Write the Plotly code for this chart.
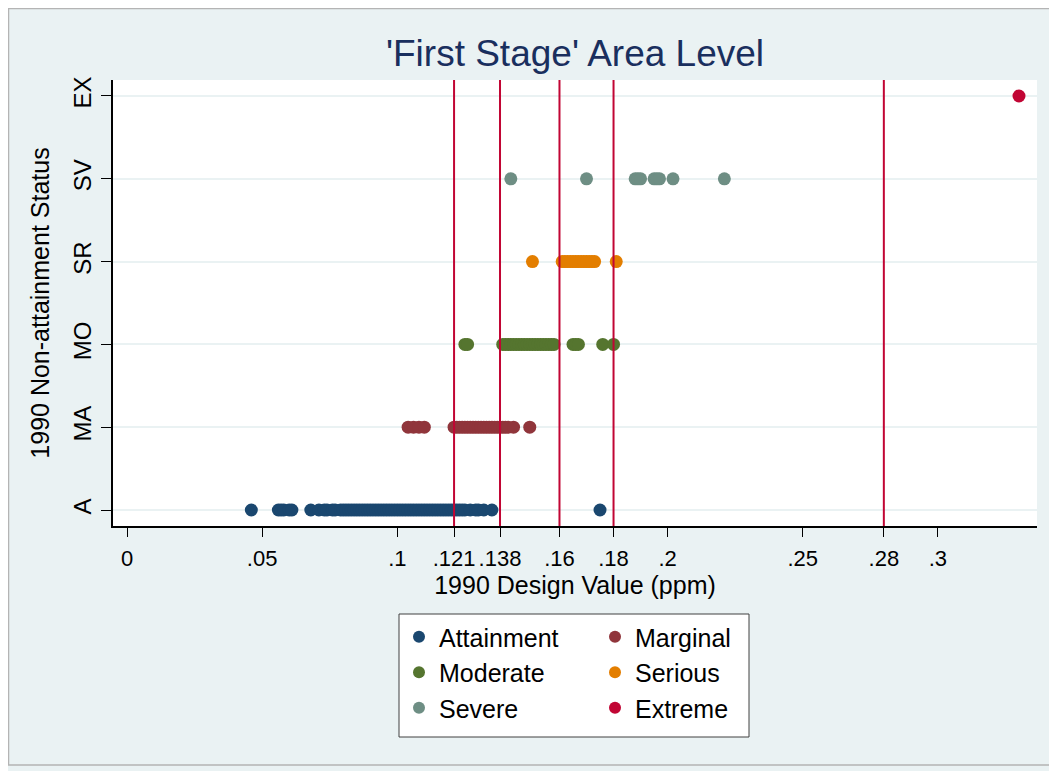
import plotly.graph_objects as go

# ---- data ----
categories = ["A", "MA", "MO", "SR", "SV", "EX"]
series_names = ["Attainment", "Marginal", "Moderate", "Serious", "Severe", "Extreme"]
series_codes = ["A", "MA", "MO", "SR", "SV", "EX"]
series_colors = ["#1a476f", "#90353b", "#55752f", "#e37e00", "#6e8e84", "#c10534"]

attainment = [0.046, 0.056, 0.057, 0.058, 0.060, 0.061, 0.068, 0.071, 0.073, 0.074,
              0.076, 0.077, 0.079, 0.080, 0.081, 0.082, 0.083, 0.084, 0.085, 0.086,
              0.087, 0.088, 0.089, 0.090, 0.091, 0.092, 0.093, 0.094, 0.095, 0.096,
              0.097, 0.098, 0.099, 0.100, 0.101, 0.102, 0.103, 0.104, 0.105, 0.106,
              0.107, 0.108, 0.109, 0.110, 0.111, 0.112, 0.113, 0.114, 0.115, 0.116,
              0.117, 0.118, 0.119, 0.120, 0.121, 0.122, 0.123, 0.124, 0.125, 0.127,
              0.129, 0.130, 0.132, 0.135, 0.175]
marginal = [0.104, 0.106, 0.108, 0.110, 0.121, 0.122, 0.123, 0.124, 0.125, 0.126,
            0.127, 0.128, 0.129, 0.130, 0.131, 0.132, 0.133, 0.134, 0.135, 0.136,
            0.137, 0.138, 0.139, 0.140, 0.141, 0.143, 0.149]
moderate = [0.125, 0.126, 0.139, 0.140, 0.141, 0.142, 0.143, 0.144, 0.145, 0.146,
            0.147, 0.148, 0.149, 0.150, 0.151, 0.152, 0.153, 0.154, 0.155, 0.156,
            0.157, 0.158, 0.165, 0.166, 0.167, 0.176, 0.180]
serious = [0.150, 0.161, 0.162, 0.163, 0.164, 0.165, 0.166, 0.167, 0.168, 0.169,
           0.170, 0.171, 0.172, 0.173, 0.181]
severe = [0.142, 0.170, 0.188, 0.189, 0.190, 0.195, 0.196, 0.197, 0.202, 0.221]
extreme = [0.330]

series_values = [attainment, marginal, moderate, serious, severe, extreme]
series_legend = ["legend", "legend2", "legend", "legend2", "legend", "legend2"]

threshold_lines = [0.121, 0.138, 0.16, 0.18, 0.28]

x_tickvals = [0, 0.05, 0.1, 0.121, 0.138, 0.16, 0.18, 0.2, 0.25, 0.28, 0.3]
x_ticktext = ["0", ".05", ".1", ".121", ".138", ".16", ".18", ".2", ".25", ".28", ".3"]

# ---- figure ----
FONT = "Liberation Sans, Arial, sans-serif"
fig = go.Figure()

for name, code, color, vals, lg in zip(series_names, series_codes, series_colors,
                                       series_values, series_legend):
    fig.add_trace(go.Scatter(
        x=vals, y=[code] * len(vals), mode="markers", name=name,
        marker=dict(color=color, size=13, line=dict(width=0)),
        legend=lg,
    ))

for xv in threshold_lines:
    fig.add_vline(x=xv, line=dict(color="#c10534", width=2))

OFF = 8  # page body margin
W, H = 1057 - OFF, 771 - OFF
L, R, T, B = 113 - OFF, 20, 80 - OFF, 245
pw, ph = W - L - R, H - T - B

def px_x(p):
    return (p - OFF - L) / pw

def px_y(p):
    return (H - B - (p - OFF)) / ph

# outer border
fig.add_shape(type="rect", xref="paper", yref="paper",
              x0=px_x(OFF + 0.5), x1=px_x(1050), y0=px_y(765), y1=px_y(OFF + 0.5),
              line=dict(color="#b4b4b4", width=1.5), fillcolor="rgba(0,0,0,0)", layer="below")
# legend box
fig.add_shape(type="rect", xref="paper", yref="paper",
              x0=px_x(399), x1=px_x(749), y0=px_y(737), y1=px_y(614),
              line=dict(color="#404040", width=1), fillcolor="white", layer="below")

legend_common = dict(bgcolor="rgba(0,0,0,0)", borderwidth=0,
                     font=dict(family=FONT, size=25, color="black"),
                     orientation="v", xanchor="left", yanchor="top",
                     itemsizing="constant", tracegroupgap=0)
fig.update_layout(
    width=W, height=H,
    margin=dict(l=L, r=R, t=T, b=B),
    paper_bgcolor="#eaf2f3",
    plot_bgcolor="white",
    font=dict(family=FONT, size=24, color="black"),
    title=dict(text="'First Stage' Area Level", x=0.5, xref="paper", xanchor="center",
               y=1 - (53 - OFF) / H, yref="container", yanchor="middle",
               font=dict(family=FONT, size=37, color="#1a2f5e")),
    showlegend=True,
    legend=dict(x=px_x(399), y=px_y(614), **legend_common),
    legend2=dict(x=px_x(595), y=px_y(614), **legend_common),
    xaxis=dict(
        range=[(113 - 127) / 2703, (1037 - 127) / 2703],
        tickmode="array", tickvals=x_tickvals, ticktext=x_ticktext,
        showgrid=False, zeroline=False,
        showline=True, linecolor="black", linewidth=1.5,
        ticks="outside", ticklen=9, tickcolor="black", tickwidth=1,
        tickangle=0,
        tickfont=dict(family=FONT, size=22, color="black"),
        ticklabelstandoff=3,
        title=dict(text="1990 Design Value (ppm)", standoff=1,
                   font=dict(family=FONT, size=25, color="black")),
    ),
    yaxis=dict(
        type="category", categoryorder="array", categoryarray=categories,
        range=[-0.193, 5.193],
        showgrid=True, gridcolor="#eaf2f3", gridwidth=2,
        zeroline=False,
        showline=True, linecolor="black", linewidth=1.5,
        ticks="outside", ticklen=10, tickcolor="black", tickwidth=1,
        tickangle=-90,
        tickfont=dict(family=FONT, size=24, color="black"),
        ticklabelstandoff=1,
        title=dict(text="1990 Non-attainment Status", standoff=12,
                   font=dict(family=FONT, size=25, color="black")),
    ),
)

fig.write_html("out.html")
